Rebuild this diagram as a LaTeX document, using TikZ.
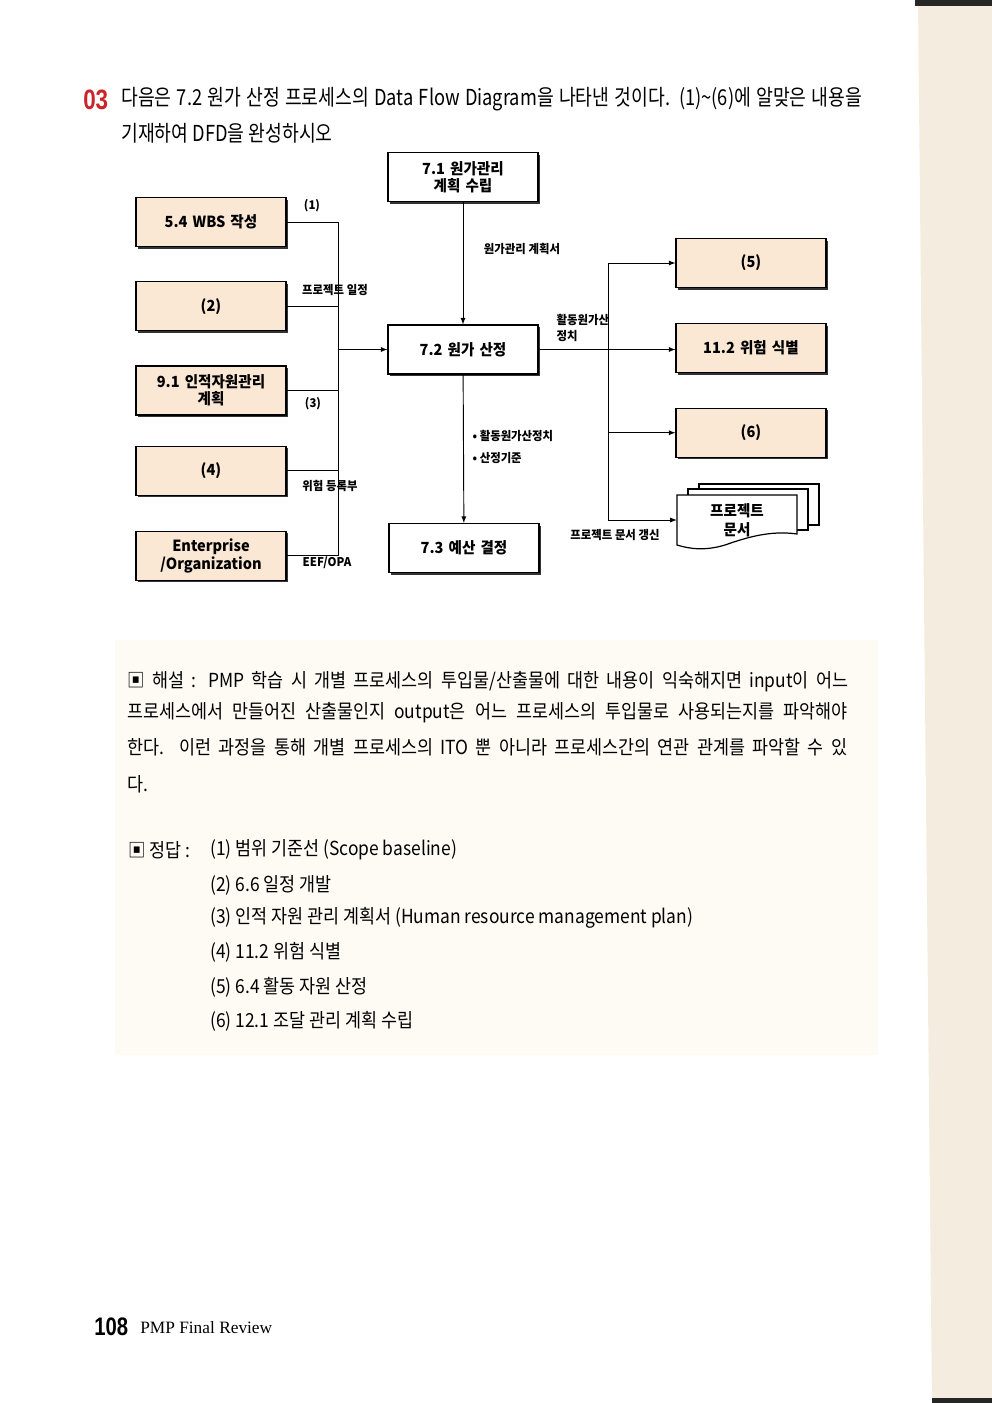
\documentclass[tikz,border=0pt]{standalone}
\usepackage{fontspec}
\setmainfont{Noto Sans CJK KR}
\newfontfamily\krfont{Noto Sans CJK KR}[FakeStretch=0.95]
\newfontfamily\titfont{Noto Sans CJK KR}[FakeStretch=0.83]
\newfontfamily\txtfont{Noto Sans CJK KR}[FakeStretch=0.9]
\newfontfamily\numfont{Liberation Sans}[FakeStretch=0.8]
\newfontfamily\serfont{Liberation Serif}
\usetikzlibrary{calc,positioning,arrows,shadows}
\definecolor{cream}{RGB}{250,231,212}
\definecolor{rouge}{RGB}{205,35,40}
\definecolor{papier}{RGB}{254,251,245}
\definecolor{bord}{RGB}{244,236,222}
\tikzset{
  ext/.style={rectangle, draw=black, line width=0.9pt, fill=cream, minimum width=112.5pt, minimum height=36.75pt, text width=104pt, align=center, font=\krfont\fontsize{11.5}{13}\selectfont\bfseries, drop shadow={shadow xshift=1.6pt, shadow yshift=-1.6pt, fill=black!80, opacity=1}},
  proc/.style={ext, fill=white},
  lab/.style={font=\krfont\fontsize{9}{12}\selectfont\bfseries, inner sep=1pt},
  line/.style={draw, line width=0.7pt, ->, >=latex},
  wire/.style={draw, line width=0.7pt},
  docpage/.style={draw=black, line width=0.9pt, fill=white},
  tline/.style={anchor=west, inner sep=0pt, font=\txtfont\fontsize{14.5}{16}\selectfont},
}
\begin{document}
\begin{tikzpicture}[x=0.75pt,y=-0.75pt]
  \useasboundingbox (0,0) rectangle (992,1403);
  % page tint and binding
  \fill[papier] (115,640) rectangle (878,1055);
  \fill[bord] (918,0) -- (992,0) -- (992,1403) -- (932,1403) -- cycle;
  \fill[black!85] (915,0) rectangle (992,6);
  \fill[black!85] (932,1398) rectangle (992,1403);

  % question
  \node[anchor=west, inner sep=0pt, text=rouge, font=\numfont\fontsize{21}{24}\selectfont\bfseries] (qnum) at (83,100) {03};
  \node[tline, font=\titfont\fontsize{16.5}{19}\selectfont] (q1) at (121,99) {\makebox[555.75pt][s]{다음은 7.2 원가 산정 프로세스의 Data Flow Diagram을 나타낸 것이다. (1)\textasciitilde(6)에 알맞은 내용을}};
  \node[tline, font=\titfont\fontsize{16.5}{19}\selectfont] (q2) at (121,133) {기재하여 DFD을 완성하시오};

  % processes
  \node[proc] (plan) at (463,177) {7.1 원가관리\\계획 수립};
  \node[proc] (est) at (463,349.5) {7.2 원가 산정};
  \node[proc] (budget) at (464,548) {7.3 예산 결정};

  \node[ext] (wbs) at (211,222) {5.4 WBS 작성};
  \node[ext, below=25.5pt of wbs] (sched) {(2)};
  \node[ext, below=25.5pt of sched] (hr) {9.1 인적자원관리\\계획};
  \node[ext, below=22.5pt of hr] (risk) {(4)};
  \node[ext, below=26.25pt of risk] (eef) {Enterprise\\/Organization};

  \node[ext] (actres) at (751,263) {(5)};
  \node[ext, below=26pt of actres] (riskid) {11.2 위험 식별};
  \node[ext, below=26pt of riskid] (procure) {(6)};

  % document stack
  \path[docpage] (699,484) rectangle (819,525);
  \path[docpage] (688,489) rectangle (808,530);
  \path[docpage] (677,495) -- (797,495) -- (797,534) .. controls (770,530) and (745,538) .. (725,545) .. controls (705,551) and (690,549) .. (677,545) -- cycle;
  \node[lab, font=\krfont\fontsize{11.5}{14}\selectfont\bfseries, align=center, minimum width=90pt] (docs) at (737,520) {프로젝트\\문서};

  % labels
  \node[lab] (l1) at (312,206) {(1)};
  \node[lab] (l2) at (335,290) {프로젝트 일정};
  \node[lab] (l3) at (313,404) {(3)};
  \node[lab] (l4) at (330,486) {위험 등록부};
  \node[lab] (l5) at (327,563) {EEF/OPA};
  \node[lab] (l6) at (522,249) {원가관리 계획서};
  \node[lab, anchor=west, align=left] (l7) at (471,447) {• 활동원가산정치\\[4.5pt]• 산정기준};
  \node[lab, anchor=west, align=left] (l8) at (555,328) {활동원가산\\정치};
  \node[lab] (l9) at (615,535) {프로젝트 문서 갱신};

  % flows
  \coordinate (lbus) at (338,0);
  \coordinate (rbus) at (608,0);
  \path[wire] (wbs.east) -| (lbus |- eef.east) -- (eef.east);
  \path[wire] (sched.east) -- (sched.east -| lbus);
  \path[wire] (hr.east) -- (hr.east -| lbus);
  \path[wire] (risk.east) -- (risk.east -| lbus);
  \begin{scope}[every path/.style=line]
    \path (est.west -| lbus) -- (est.west);
    \path (plan) -- (est);
    \path (est) -- (budget);
    \path (est.east) -- (est.east -| riskid.west);
    \path (rbus |- actres.west) -- (actres.west);
    \path (rbus |- procure.west) -- (procure.west);
    \path (rbus |- actres.west) |- (docs.west);
  \end{scope}

  % explanation
  \node[tline] (b1) at (127,682) {\makebox[540.75pt][s]{▣ 해설 : PMP 학습 시 개별 프로세스의 투입물/산출물에 대한 내용이 익숙해지면 input이 어느}};
  \node[tline] (b2) at (127,713) {\makebox[540pt][s]{프로세스에서 만들어진 산출물인지 output은 어느 프로세스의 투입물로 사용되는지를 파악해야}};
  \node[tline] (b3) at (127,747) {\makebox[540pt][s]{한다. 이런 과정을 통해 개별 프로세스의 ITO 뿐 아니라 프로세스간의 연관 관계를 파악할 수 있}};
  \node[tline] (b4) at (127,784) {다.};

  % answers
  \node[tline] (ahead) at (128,850) {▣ 정답 :};
  \node[tline] (a1) at (210,850) {(1) 범위 기준선 (Scope baseline)};
  \node[tline] (a2) at (210,885) {(2) 6.6 일정 개발};
  \node[tline] (a3) at (210,918) {(3) 인적 자원 관리 계획서 (Human resource management plan)};
  \node[tline] (a4) at (210,952) {(4) 11.2 위험 식별};
  \node[tline] (a5) at (210,987) {(5) 6.4 활동 자원 산정};
  \node[tline] (a6) at (210,1021) {(6) 12.1 조달 관리 계획 수립};

  % footer
  \node[anchor=west, inner sep=0pt, font=\numfont\fontsize{19}{22}\selectfont\bfseries] (pnum) at (94,1327) {108};
  \node[anchor=west, inner sep=0pt, font=\serfont\fontsize{13}{15}\selectfont] (ptitle) at (140,1328) {PMP Final Review};
\end{tikzpicture}
\end{document}
